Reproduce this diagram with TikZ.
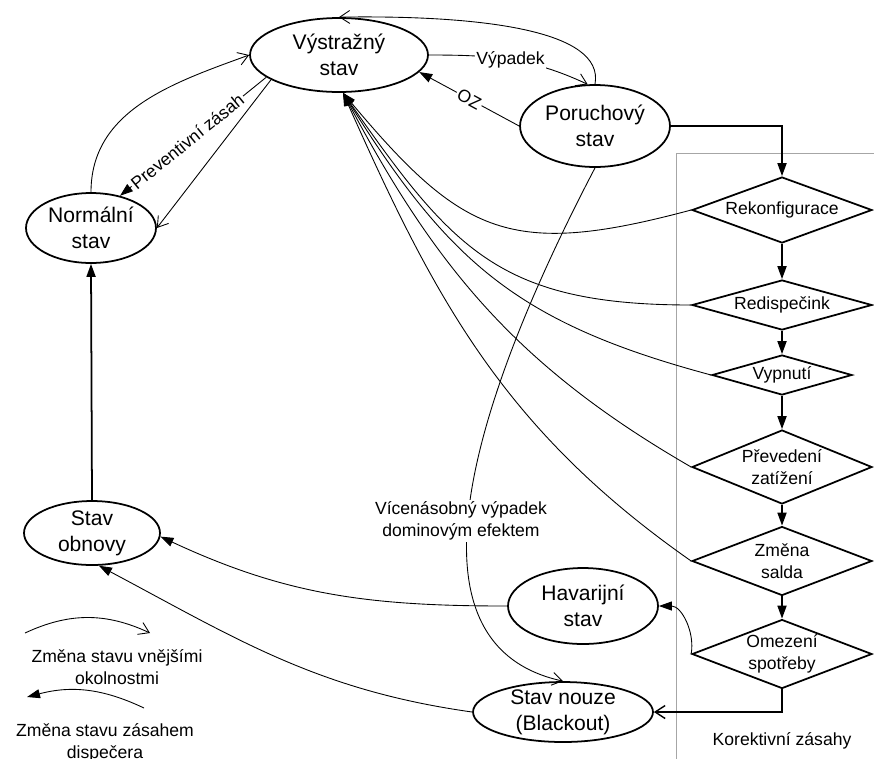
\documentclass[tikz,border=0pt]{standalone}
\usepackage{fontspec}
\setmainfont{Liberation Sans}
\usepackage{tikz}
\usetikzlibrary{shapes.geometric,arrows.meta,positioning}

\begin{document}
\begin{tikzpicture}[x=0.02cm, y=0.02cm, line width=0.5pt,
    state/.style={ellipse, draw, line width=1pt, inner sep=0pt, inner ysep=-3pt, align=center, font=\fontsize{12}{15}\selectfont},
    action/.style={diamond, draw, line width=1pt, inner xsep=0pt, inner ysep=-2pt, shape aspect=2.6, align=center, font=\fontsize{10}{12.5}\selectfont},
    lbl/.style={font=\fontsize{10}{12.5}\selectfont, align=center},
    tag/.style={lbl, fill=white, inner sep=1pt},
    ext/.style={-{Straight Barb[length=2mm, width=2.6mm]}},
    disp/.style={-{Triangle[length=2.6mm, width=1.8mm]}}]
    \useasboundingbox (0,0) rectangle (874,-758);

    % Korektivni zasahy frame
    \draw[gray!70, line width=0.4pt] (676,-800) -- (676,-153) -- (900,-153);
    \node[lbl] (kor) at (782,-741) {Korektivní zásahy};

    % states
    \node[state, minimum width=3.56cm, minimum height=1.48cm] (vys) at (339,-55) {Výstražný\\stav};
    \node[state, minimum width=3.0cm, minimum height=1.64cm] (por) at (595,-126) {Poruchový\\stav};
    \node[state, minimum width=2.6cm, minimum height=1.4cm] (nor) at (91,-228) {Normální\\stav};
    \node[state, minimum width=2.72cm, minimum height=1.28cm] (obn) at (92,-533) {Stav\\obnovy};
    \node[state, minimum width=3.0cm, minimum height=1.52cm] (hav) at (583,-606) {Havarijní\\stav};
    \node[state, minimum width=3.6cm, minimum height=1.2cm, inner ysep=-5pt] (nou) at (563,-712) {Stav nouze\\(Blackout)};

    % corrective actions
    \node[action, minimum width=3.6cm, minimum height=1.32cm] (rek) at (782,-210) {Rekonfigurace};
    \node[action, minimum width=3.6cm, minimum height=1.0cm] (red) at (782,-305) {Redispečink};
    \node[action, minimum width=2.8cm, minimum height=0.8cm] (vyp) at (782,-375) {Vypnutí};
    \node[action, minimum width=3.6cm, minimum height=1.48cm] (pre) at (782,-467) {Převedení\\zatížení};
    \node[action, minimum width=3.6cm, minimum height=1.38cm] (zme) at (782,-561) {Změna\\salda};
    \node[action, minimum width=3.6cm, minimum height=1.38cm] (ome) at (782,-654) {Omezení\\spotřeby};

    % flow of actions
    \draw[line width=1pt, disp] (por.east) -| (rek.north);
    \foreach \a/\b in {rek/red, red/vyp, vyp/pre, pre/zme, zme/ome}
        \draw[line width=1pt, disp] (\a.south) -- (\b.north);
    \draw[line width=0.8pt, ext] (ome.south) |- (nou.east);
    \draw[disp] (ome.west) to[out=80, in=0] (hav.east);

    % back to Vystrazny stav
    \draw[disp] (rek.west) to[out=195, in=-50, looseness=1.3] (vys.-84);
    \draw[disp] (red.west) to[out=180, in=-55, looseness=1.2] (vys.-84);
    \draw[disp] (vyp.west) to[out=165, in=-58, looseness=1.1] (vys.-84);
    \draw[disp] (pre.west) to[out=150, in=-62] (vys.-84);
    \draw[disp] (zme.west) to[out=145, in=-66] (vys.-84);

    % Normalni <-> Vystrazny
    \draw[ext] (nor.north) to[out=90, in=200] (vys.west);
    \draw[disp] (vys.197) -- node[tag, sloped, pos=0.54] (prev) {Preventivní zásah} (nor.48);
    \draw[ext] (vys.200) -- (nor.east);

    % Vystrazny <-> Poruchovy
    \draw[ext] (por.north) .. controls (605,-30) and (480,-15) .. (vys.north);
    \draw[ext] (vys.east) to[out=0, in=155] node[tag] (vypadek) {Výpadek} (por.100);
    \draw[disp] (por.west) -- node[tag, sloped] (oz) {OZ} (vys.-12);

    % cascade
    \draw[ext] (por.south) .. controls (505,-340) and (375,-640) .. (nou.north);
    \node[tag] (multi) at (461,-521) {Vícenásobný výpadek\\dominovým efektem};

    % restoration
    \draw[disp] (hav.west) to[out=180, in=-25] (obn.-3);
    \draw[disp] (nou.west) to[out=172, in=-28] (obn.-78);
    \draw[line width=1pt, disp] (obn.north) -- (nor.south);

    % legend
    \coordinate (e1) at (25,-633);
    \coordinate (e2) at (150,-633);
    \draw[ext] (e1) to[bend left=25] (e2);
    \node[lbl] (etxt) at (117,-667) {Změna stavu vnějšími\\okolnostmi};
    \coordinate (d1) at (144,-708);
    \coordinate (d2) at (27,-697);
    \draw[disp] (d1) to[bend right=20] (d2);
    \node[lbl] (dtxt) at (105,-743) {Změna stavu zásahem\\dispečera};
\end{tikzpicture}
\end{document}
